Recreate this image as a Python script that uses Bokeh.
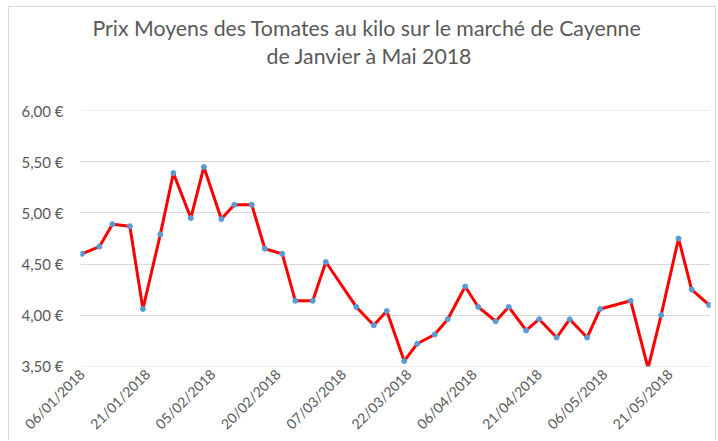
from datetime import datetime, timedelta
from bokeh.plotting import figure
from bokeh.models import Range1d, FixedTicker, DatetimeTickFormatter, Title, ColumnDataSource
from bokeh.embed import file_html
from bokeh.resources import INLINE
import math

# ---- data ----
dates = ["2018-01-06", "2018-01-10", "2018-01-13", "2018-01-17", "2018-01-20",
         "2018-01-24", "2018-01-27", "2018-01-31", "2018-02-03", "2018-02-07",
         "2018-02-10", "2018-02-14", "2018-02-17", "2018-02-21", "2018-02-24",
         "2018-02-28", "2018-03-03", "2018-03-10", "2018-03-14", "2018-03-17",
         "2018-03-21", "2018-03-24", "2018-03-28", "2018-03-31", "2018-04-04",
         "2018-04-07", "2018-04-11", "2018-04-14", "2018-04-18", "2018-04-21",
         "2018-04-25", "2018-04-28", "2018-05-02", "2018-05-05", "2018-05-12",
         "2018-05-16", "2018-05-19", "2018-05-23", "2018-05-26", "2018-05-30"]
prices = [4.60, 4.67, 4.89, 4.87, 4.06, 4.79, 5.39, 4.95, 5.45, 4.94,
          5.08, 5.08, 4.65, 4.60, 4.14, 4.14, 4.52, 4.08, 3.90, 4.04,
          3.55, 3.72, 3.81, 3.96, 4.28, 4.08, 3.94, 4.08, 3.85, 3.96,
          3.78, 3.96, 3.78, 4.06, 4.14, 3.48, 4.00, 4.75, 4.25, 4.10]
x_tick_labels = ["06/01/2018", "21/01/2018", "05/02/2018", "20/02/2018", "07/03/2018",
                 "22/03/2018", "06/04/2018", "21/04/2018", "06/05/2018", "21/05/2018"]
y_ticks = [3.5, 4.0, 4.5, 5.0, 5.5, 6.0]
y_tick_labels = ["3,50 €", "4,00 €", "4,50 €", "5,00 €", "5,50 €", "6,00 €"]
title_lines = ["Prix Moyens des Tomates au kilo sur le marché de Cayenne",
               "de Janvier à Mai 2018"]

FONT = "Lato"
GREY = "#595959"

xs = [datetime.strptime(d, "%Y-%m-%d") for d in dates]
src = ColumnDataSource(dict(x=xs, y=prices))

p = figure(width=708, height=434, output_backend="svg", toolbar_location=None,
           x_axis_type="datetime",
           x_range=Range1d(xs[0] - timedelta(hours=8), xs[-1] + timedelta(hours=8)),
           y_range=Range1d(3.497, 6.003),
           min_border_left=71, min_border_right=7, min_border_top=103, min_border_bottom=74)
p.outline_line_color = None
p.background_fill_color = "white"
p.border_fill_color = "white"
p.styles = {"margin-left": "8px", "margin-top": "6px",
            "border-left": "1px solid #d9d9d9", "border-top": "1px solid #d9d9d9",
            "border-right": "1px solid #d9d9d9"}

p.line("x", "y", source=src, line_color="#ff0000", line_width=3)
p.scatter("x", "y", source=src, size=5, fill_color="#5b9bd5", line_color="#5b9bd5")

# x axis
tick_ms = [datetime.strptime(t, "%d/%m/%Y").timestamp() * 1000 for t in x_tick_labels]
xa = p.xaxis[0]
xa.ticker = FixedTicker(ticks=tick_ms)
xa.formatter = DatetimeTickFormatter(days="%d/%m/%Y", months="%d/%m/%Y", years="%d/%m/%Y")
xa.major_label_orientation = math.pi / 4
xa.major_label_text_font = FONT
xa.major_label_text_font_size = "14px"
xa.major_label_text_line_height = 0.9
xa.major_label_text_color = GREY
xa.major_label_standoff = 5
xa.major_tick_out = 0
xa.major_tick_in = 0
xa.minor_tick_out = 0
xa.minor_tick_in = 0
xa.axis_line_color = None
xa.major_tick_line_color = None
xa.minor_tick_line_color = None

# y axis
ya = p.yaxis[0]
ya.ticker = FixedTicker(ticks=y_ticks)
ya.major_label_overrides = {t: l for t, l in zip(y_ticks, y_tick_labels)}
ya.major_label_text_font = FONT
ya.major_label_text_font_size = "15px"
ya.major_label_text_color = GREY
ya.major_label_standoff = 17
ya.major_tick_out = 0
ya.major_tick_in = 0
ya.axis_line_color = None
ya.major_tick_line_color = None
ya.minor_tick_line_color = None

p.xgrid.grid_line_color = None
p.ygrid.grid_line_color = "#d9d9d9"
p.ygrid.grid_line_width = 1
p.ygrid.ticker = FixedTicker(ticks=y_ticks)

# title stack (closest to the frame first): spacer, line 2, line 1
p.add_layout(Title(text=" ", standoff=28, text_font=FONT, text_font_size="10px"), "above")
p.add_layout(Title(text=title_lines[1], align="left", offset=186, standoff=0,
                   text_font=FONT, text_font_size="21.3px", text_font_style="normal",
                   text_color=GREY), "above")
p.add_layout(Title(text=title_lines[0], align="left", offset=12, standoff=0,
                   text_font=FONT, text_font_size="21.3px", text_font_style="normal",
                   text_color=GREY), "above")

open("out.html", "w").write(file_html(p, INLINE))
